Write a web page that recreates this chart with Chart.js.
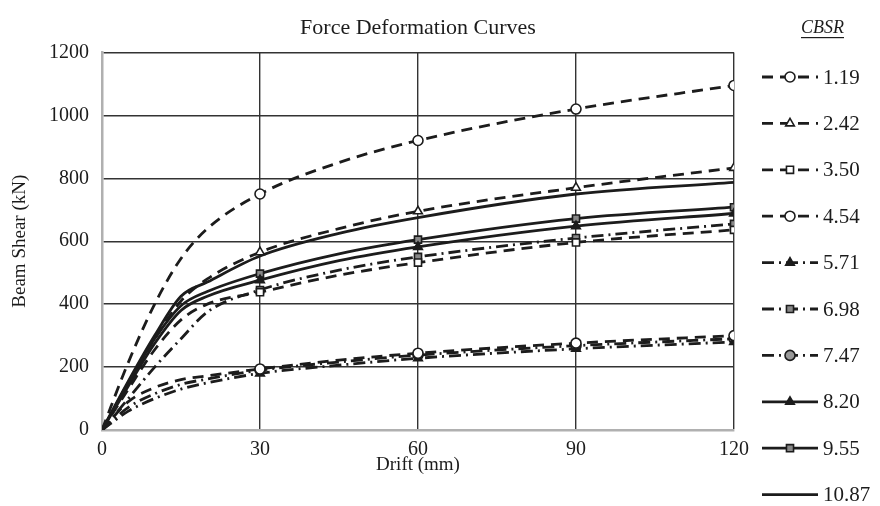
<!DOCTYPE html>
<html>
<head>
<meta charset="utf-8">
<script src="https://cdn.jsdelivr.net/npm/chart.js@4.4.1/dist/chart.umd.min.js"></script>
<style>
  html, body { margin: 0; padding: 0; background: #fff; }
  #wrap { width: 880px; height: 506px; position: relative; }
</style>
</head>
<body>
<div id="wrap"><canvas id="c" width="880" height="506"></canvas></div>
<script>
// ---- data ----
const drift = [0, 5, 10, 15, 20, 30, 45, 60, 90, 120];           // Drift (mm)
const cbsrLabels = ['1.19', '2.42', '3.50', '4.54', '5.71', '6.98', '7.47', '8.20', '9.55', '10.87'];
const shear_1_19  = [0, 215, 400, 545, 640, 750, 850, 920, 1020, 1095];
const shear_2_42  = [0, 150, 290, 410, 480, 565, 640, 695, 770, 833];
const shear_3_50  = [0, 130, 255, 350, 400, 438, 492, 532, 596, 636];
const shear_4_54  = [0, 90, 135, 160, 172, 194, 222, 244, 276, 300];
const shear_5_71  = [0, 60, 100, 130, 150, 180, 206, 228, 258, 280];
const shear_6_98  = [0, 100, 200, 290, 375, 445, 508, 550, 610, 655];
const shear_7_47  = [0, 72, 115, 145, 162, 190, 216, 238, 268, 290];
const shear_8_20  = [0, 140, 275, 380, 425, 476, 538, 582, 648, 688];
const shear_9_55  = [0, 150, 290, 395, 440, 497, 560, 605, 672, 708];
const shear_10_87 = [0, 155, 300, 425, 470, 553, 625, 675, 750, 787];
const xTicks = [0, 30, 60, 90, 120];
const yTicks = [0, 200, 400, 600, 800, 1000, 1200];

const allShear = [shear_1_19, shear_2_42, shear_3_50, shear_4_54, shear_5_71,
                  shear_6_98, shear_7_47, shear_8_20, shear_9_55, shear_10_87];

// ---- styles ----
const INK = '#1c1c1c';
const DASH = [11, 7];
const DASHDOT = [12, 5, 2, 5];
const styles = [
  { dash: DASH,    pt: 'circle',   fill: '#ffffff' },
  { dash: DASH,    pt: 'triangle', fill: '#ffffff' },
  { dash: DASH,    pt: 'rect',     fill: '#ffffff' },
  { dash: DASH,    pt: 'circle',   fill: '#ffffff' },
  { dash: DASHDOT, pt: 'triangle', fill: '#1c1c1c' },
  { dash: DASHDOT, pt: 'rect',     fill: '#888888' },
  { dash: DASHDOT, pt: 'circle',   fill: '#999999' },
  { dash: [],      pt: 'triangle', fill: '#1c1c1c' },
  { dash: [],      pt: 'rect',     fill: '#888888' },
  { dash: [],      pt: false,      fill: '#1c1c1c' }
];
const markerRadius = drift.map(d => (d >= 30 && d % 30 === 0) ? 5 : 0);

const datasets = allShear.map((arr, i) => ({
  label: cbsrLabels[i],
  data: drift.map((d, k) => ({ x: d, y: arr[k] })),
  borderColor: INK,
  borderWidth: 2.8,
  borderDash: styles[i].dash,
  pointStyle: styles[i].pt,
  pointRadius: styles[i].pt ? markerRadius : 0,
  pointBorderWidth: 1.6,
  pointBorderColor: INK,
  pointBackgroundColor: styles[i].fill,
  cubicInterpolationMode: 'monotone',
  fill: false
}));

const SERIF = '"Liberation Serif", "DejaVu Serif", serif';

const legendPlugin = {
  id: 'sideLegend',
  afterDraw(chart) {
    const ctx = chart.ctx;
    ctx.save();
    // header
    ctx.font = 'italic 18px ' + SERIF;
    ctx.fillStyle = INK;
    ctx.textAlign = 'left';
    ctx.textBaseline = 'middle';
    const hx = 801, hy = 28;
    ctx.fillText('CBSR', hx, hy);
    const hw = ctx.measureText('CBSR').width;
    ctx.fillRect(hx, hy + 9, hw, 1.2);
    // items
    chart.data.datasets.forEach((ds, i) => {
      const y = 77 + i * 46.4;
      const x0 = 762, x1 = 818, xm = (x0 + x1) / 2;
      ctx.strokeStyle = INK;
      ctx.lineWidth = 2.8;
      ctx.setLineDash(ds.borderDash || []);
      ctx.beginPath();
      ctx.moveTo(x0, y);
      ctx.lineTo(x1, y);
      ctx.stroke();
      ctx.setLineDash([]);
      if (ds.pointStyle) {
        ctx.fillStyle = ds.pointBackgroundColor;
        ctx.strokeStyle = INK;
        ctx.lineWidth = 1.6;
        Chart.helpers.drawPoint(ctx, { pointStyle: ds.pointStyle, radius: 5, rotation: 0, borderWidth: 1.6 }, xm, y);
      }
      ctx.fillStyle = INK;
      ctx.font = '21px ' + SERIF;
      ctx.textAlign = 'left';
      ctx.textBaseline = 'middle';
      ctx.fillText(ds.label, x1 + 5, y + 1);
    });
    ctx.restore();
  }
};

new Chart(document.getElementById('c'), {
  type: 'line',
  data: { datasets },
  options: {
    responsive: false,
    animation: false,
    layout: { padding: { left: 0, right: 146, top: 2, bottom: 0 } },
    plugins: {
      legend: { display: false },
      tooltip: { enabled: false },
      title: {
        display: true,
        text: 'Force Deformation Curves',
        fullSize: false,
        color: INK,
        font: { family: SERIF, size: 22, weight: 'normal' },
        padding: { top: 13, bottom: 11 }
      }
    },
    scales: {
      x: {
        type: 'linear',
        min: 0, max: 120,
        afterBuildTicks: s => { s.ticks = xTicks.map(v => ({ value: v })); },
        afterFit: s => { s.height = 76; },
        ticks: { color: INK, font: { family: SERIF, size: 20 }, padding: 8,
                 callback: v => String(v) },
        grid: { color: '#333333', lineWidth: 1.4, drawTicks: false },
        border: { color: '#b0b0b0', width: 2.5 },
        title: { display: true, text: 'Drift (mm)', color: INK,
                 font: { family: SERIF, size: 19 }, padding: { top: 0, bottom: 30 } }
      },
      y: {
        type: 'linear',
        min: 0, max: 1200,
        afterBuildTicks: s => { s.ticks = yTicks.map(v => ({ value: v })); },
        afterFit: s => { s.width = 102; },
        ticks: { color: INK, font: { family: SERIF, size: 20 }, padding: 13,
                 callback: v => String(v) },
        grid: { color: '#333333', lineWidth: 1.4, drawTicks: false },
        border: { color: '#b0b0b0', width: 2.5 },
        title: { display: true, text: 'Beam Shear (kN)', color: INK,
                 font: { family: SERIF, size: 19 }, padding: { top: 9, bottom: 0 } }
      }
    }
  },
  plugins: [legendPlugin]
});
</script>
</body>
</html>
